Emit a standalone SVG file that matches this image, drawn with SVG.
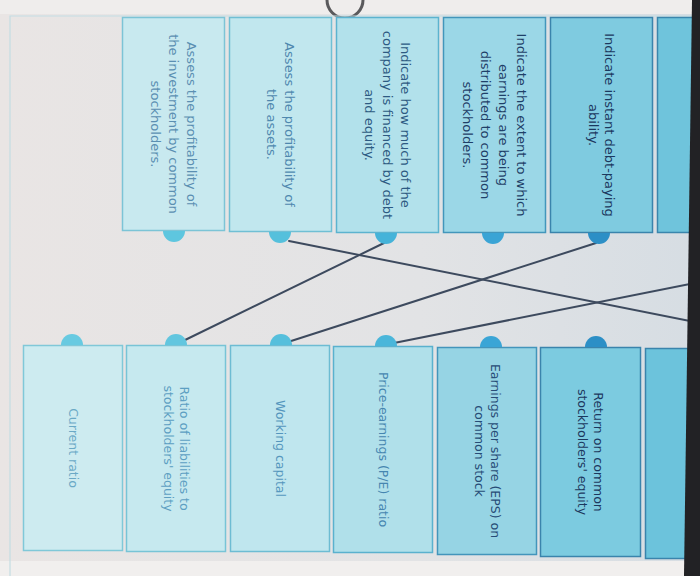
<svg xmlns="http://www.w3.org/2000/svg" width="700" height="576" viewBox="0 0 700 576">
<defs>
<linearGradient id="bg" x1="0" y1="0" x2="1" y2="0">
<stop offset="0" stop-color="#e9e5e4"/>
<stop offset="0.6" stop-color="#e2e3e5"/>
<stop offset="1" stop-color="#d6dde3"/>
</linearGradient>
</defs>
<style>
.t{font-family:"DejaVu Sans","Verdana",sans-serif;text-anchor:middle;dominant-baseline:central}
.top{font-size:13px}
.bot{font-size:12.5px}
.cn{fill:none;stroke:#3d4a5e;stroke-width:2;stroke-linecap:round}
</style>
<rect x="0" y="0" width="700" height="576" fill="url(#bg)"/>
<rect x="0" y="0" width="700" height="14" fill="#efedec"/>
<rect x="0" y="561" width="700" height="15" fill="#f1efee"/>
<path d="M327,0 A18,18 0 0 0 363,0" fill="none" stroke="#5a5a5c" stroke-width="3"/>
<path d="M10,576 L10,16 L700,16" fill="none" stroke="#c4dde3" stroke-width="1.2"/>

<g id="connectors">
<line class="cn" x1="289" y1="241" x2="700" y2="323"/>
<line class="cn" x1="384" y1="243" x2="183" y2="341" stroke="#4a5870"/>
<line class="cn" x1="596" y1="243" x2="288" y2="342"/>
<line class="cn" x1="394" y1="343" x2="700" y2="282"/>
</g>

<g id="top-empty">
<rect x="657.5" y="17.5" width="102" height="215" fill="#6fc4dc" stroke="#3a86ad" stroke-width="1.5"/>
</g>

<g id="q-investment">
<rect x="122.5" y="17.5" width="102" height="213" fill="#c8e9ef" stroke="#7cc4d6" stroke-width="1.5"/>
<path d="M163,231 A11,11 0 0 0 185,231 Z" fill="#5ec6df"/>
<g transform="translate(173.5,124) rotate(90)" class="t top" fill="#5b8fb2">
<text x="0" y="-18">Assess the profitability of</text>
<text x="0" y="0">the investment by common</text>
<text x="0" y="18">stockholders.</text>
</g>
</g>

<g id="q-assets">
<rect x="229.5" y="17.5" width="102" height="214" fill="#c1e7ee" stroke="#70bfd4" stroke-width="1.5"/>
<path d="M269,232 A11,11 0 0 0 291,232 Z" fill="#55c0dc"/>
<g transform="translate(280.5,124.5) rotate(90)" class="t top" fill="#4f88ae">
<text x="0" y="-9">Assess the profitability of</text>
<text x="0" y="9">the assets.</text>
</g>
</g>

<g id="q-financed">
<rect x="336.5" y="17.5" width="102" height="215" fill="#b2e1eb" stroke="#5cb3cf" stroke-width="1.5"/>
<path d="M375,233 A11,11 0 0 0 397,233 Z" fill="#45b3d9"/>
<g transform="translate(387.5,125) rotate(90)" class="t top" fill="#2d5a82">
<text x="0" y="-18">Indicate how much of the</text>
<text x="0" y="0">company is financed by debt</text>
<text x="0" y="18">and equity.</text>
</g>
</g>

<g id="q-distributed">
<rect x="443.5" y="17.5" width="102" height="215" fill="#9bd7e7" stroke="#4396bb" stroke-width="1.5"/>
<path d="M482,233 A11,11 0 0 0 504,233 Z" fill="#3aa4d5"/>
<g transform="translate(494.5,125) rotate(90)" class="t top" fill="#1f3f68">
<text x="0" y="-27">Indicate the extent to which</text>
<text x="0" y="-9">earnings are being</text>
<text x="0" y="9">distributed to common</text>
<text x="0" y="27">stockholders.</text>
</g>
</g>

<g id="q-debtpaying">
<rect x="550.5" y="17.5" width="102" height="215" fill="#7fcbe0" stroke="#3a84ac" stroke-width="1.5"/>
<path d="M588,233 A11,11 0 0 0 610,233 Z" fill="#2c8fc6"/>
<g transform="translate(601.5,125) rotate(90)" class="t top" fill="#1c385e">
<text x="0" y="-8">Indicate instant debt-paying</text>
<text x="0" y="8">ability.</text>
</g>
</g>

<g id="a-current">
<rect x="23.5" y="345.5" width="99" height="205" fill="#cdebf0" stroke="#80c8d8" stroke-width="1.5"/>
<path d="M61,345 A11,11 0 0 1 83,345 Z" fill="#68cae1"/>
<g transform="translate(73,448) rotate(90)" class="t bot" fill="#6aa9c6">
<text x="0" y="0">Current ratio</text>
</g>
</g>

<g id="a-liabilities">
<rect x="126.5" y="345.5" width="99" height="206" fill="#c6e9ef" stroke="#78c4d6" stroke-width="1.5"/>
<path d="M165,345 A11,11 0 0 1 187,345 Z" fill="#62c6df"/>
<g transform="translate(176,448.5) rotate(90)" class="t bot" fill="#5d9fc2">
<text x="0" y="-8">Ratio of liabilities to</text>
<text x="0" y="8">stockholders' equity</text>
</g>
</g>

<g id="a-working">
<rect x="230.5" y="345.5" width="99" height="206" fill="#bfe6ee" stroke="#6dbcd3" stroke-width="1.5"/>
<path d="M270,345 A11,11 0 0 1 292,345 Z" fill="#56bfdc"/>
<g transform="translate(280,448.5) rotate(90)" class="t bot" fill="#5596bd">
<text x="0" y="0">Working capital</text>
</g>
</g>

<g id="a-pe">
<rect x="333.5" y="346.5" width="99" height="206" fill="#b0e0ea" stroke="#5ab1ce" stroke-width="1.5"/>
<path d="M375,346 A11,11 0 0 1 397,346 Z" fill="#4ab6da"/>
<g transform="translate(383,449.5) rotate(90)" class="t bot" fill="#4686b0">
<text x="0" y="0">Price-earnings (P/E) ratio</text>
</g>
</g>

<g id="a-eps">
<rect x="437.5" y="347.5" width="99" height="207" fill="#96d4e4" stroke="#4395bb" stroke-width="1.5"/>
<path d="M480,347 A11,11 0 0 1 502,347 Z" fill="#3aa5d6"/>
<g transform="translate(487,451) rotate(90)" class="t bot" fill="#274c76">
<text x="0" y="-8">Earnings per share (EPS) on</text>
<text x="0" y="8">common stock</text>
</g>
</g>

<g id="a-roe">
<rect x="540.5" y="347.5" width="100" height="209" fill="#7ccbe0" stroke="#3a84ac" stroke-width="1.5"/>
<path d="M585,347 A11,11 0 0 1 607,347 Z" fill="#2c8fc6"/>
<g transform="translate(590.5,452) rotate(90)" class="t bot" fill="#1c385e">
<text x="0" y="-8">Return on common</text>
<text x="0" y="8">stockholders' equity</text>
</g>
</g>

<g id="bottom-empty">
<rect x="645.5" y="348.5" width="100" height="210" fill="#6cc3dc" stroke="#3a84ac" stroke-width="1.5"/>
</g>

<polygon points="692,0 700,0 700,576 684,576" fill="#222225"/>
</svg>
